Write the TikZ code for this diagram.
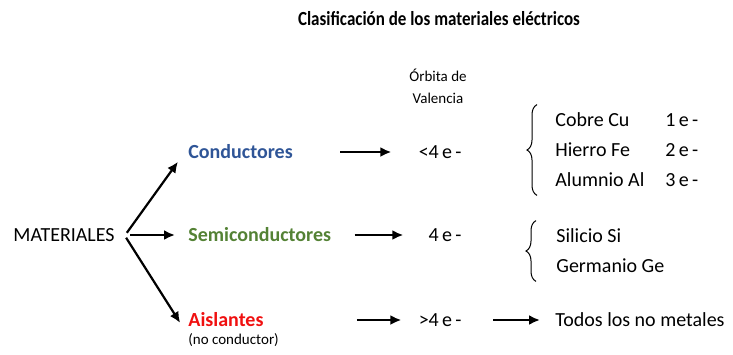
\documentclass[tikz,border=0pt]{standalone}
\usepackage{fontspec}
\setmainfont{Carlito}
\newfontfamily\TituloFont[FakeStretch=0.85]{Carlito}
\usepackage{tikz}
\usetikzlibrary{positioning,arrows.meta,decorations.pathreplacing}
\definecolor{CondBlue}{HTML}{2F5597}
\definecolor{SemiGreen}{HTML}{548235}
\definecolor{AislRed}{HTML}{F01010}
\tikzstyle{TextNode}=[inner sep=1.5pt, font=\fontsize{10}{12}\selectfont]
\tikzstyle{ClassNode}=[inner sep=1.5pt, font=\fontsize{10}{12}\selectfont\bfseries]
\tikzstyle{SmallNode}=[inner sep=1.5pt, font=\fontsize{7.5}{11}\selectfont]
\tikzstyle{ListNode}=[inner sep=0pt, font=\fontsize{10}{12}\selectfont]
\tikzstyle{Flecha}=[-{Latex[length=5.5pt,width=5pt]}, line width=1.1pt]
\tikzstyle{Llave}=[decorate, decoration={brace, amplitude=5pt}, line width=0.5pt]

\begin{document}
\begin{tikzpicture}[x=0.5pt, y=-0.5pt, node distance=0.4cm]
    \useasboundingbox (0,0) rectangle (733,354);

    \node (title) [inner sep=0pt, font=\fontsize{10}{12}\selectfont\TituloFont\bfseries] at (439,19) {Clasificación de los materiales eléctricos};
    \node (orbita) [SmallNode, align=center] at (438,86) {Órbita de\\Valencia};

    \node (mat) [TextNode, anchor=west] at (10,235) {MATERIALES};
    \node (cond) [ClassNode, text=CondBlue, anchor=west] at (185,152) {Conductores};
    \node (semi) [ClassNode, text=SemiGreen, anchor=west] at (185,235) {Semiconductores};
    \node (aisl) [ClassNode, text=AislRed, anchor=west] at (185,320) {Aislantes};
    \node (noCond) [SmallNode, below=0pt of aisl.south west, anchor=north west] {(no conductor)};

    \node (e1) [TextNode, anchor=east] at (465,152) {<4\,e\,-};
    \node (e2) [TextNode, anchor=east] at (465,235) {4\,e\,-};
    \node (e3) [TextNode, anchor=east] at (465,320) {>4\,e\,-};

    \node (condList) [ListNode, anchor=west] at (555,150) {\renewcommand{\arraystretch}{1.25}%
      \begin{tabular}{@{}p{55pt}@{}l@{}}
        Cobre Cu & 1\,e\,-\\
        Hierro Fe & 2\,e\,-\\
        Alumnio Al & 3\,e\,-
      \end{tabular}};
    \node (semiList) [ListNode, anchor=west] at (556,251) {\renewcommand{\arraystretch}{1.25}%
      \begin{tabular}{@{}l@{}}
        Silicio Si\\
        Germanio Ge
      \end{tabular}};
    \node (todos) [TextNode, anchor=west] at (552,320) {Todos los no metales};

    \draw [Flecha, shorten <=7.5pt, shorten >=6pt] (mat.south east) -- (cond.west);
    \draw [Flecha, shorten <=6pt, shorten >=5pt] (mat.east) -- (semi.west);
    \draw [Flecha, shorten <=7.5pt, shorten >=4.5pt] (mat.north east) -- (aisl.south west);
    \draw [Flecha, shorten <=22pt, shorten >=12pt] (cond.east) -- (e1.west);
    \draw [Flecha, shorten <=10pt, shorten >=11pt] (semi.east) -- (e2.west);
    \draw [Flecha, shorten <=45pt, shorten >=7pt] (aisl.east) -- (e3.west);
    \draw [Flecha, shorten <=14pt, shorten >=6pt] (e3.east) -- (todos.west);
    \draw [Llave] ([xshift=-9pt]condList.south west) -- ([xshift=-9pt]condList.north west);
    \draw [Llave] ([xshift=-10pt]semiList.south west) -- ([xshift=-10pt]semiList.north west);
\end{tikzpicture}
\end{document}
